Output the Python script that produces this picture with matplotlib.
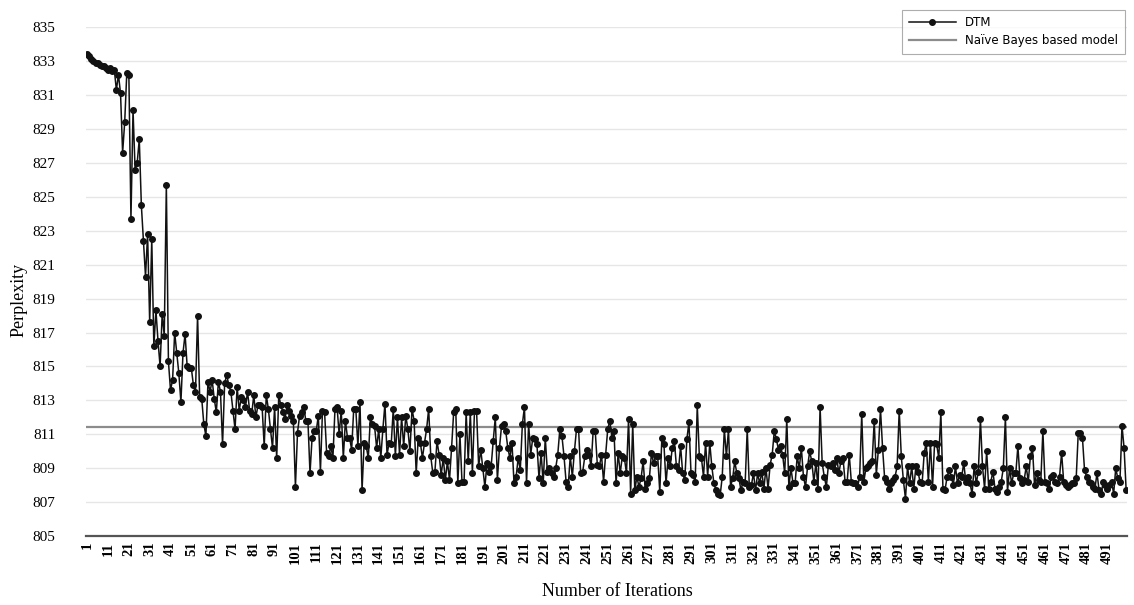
import matplotlib
matplotlib.use("Agg")
import matplotlib.pyplot as plt
import numpy as np

# perplexity per iteration (1..500)
dtm_1_50 = [833.4, 833.3, 833.1, 833.0, 832.9, 832.9, 832.8, 832.7, 832.7, 832.6,
            832.5, 832.6, 832.4, 832.5, 831.3, 832.2, 831.1, 827.6, 829.4, 832.3,
            832.2, 823.7, 830.1, 826.6, 827.0, 828.4, 824.5, 822.4, 820.3, 822.8,
            817.6, 822.5, 816.2, 818.3, 816.5, 815.0, 818.1, 816.8, 825.7, 815.3,
            813.6, 814.2, 817.0, 815.8, 814.6, 812.9, 815.8, 816.9, 815.0, 814.9]
dtm_51_101 = [814.9, 813.9, 813.5, 818.0, 813.2, 813.1, 811.6, 810.9, 814.1, 813.5,
              814.2, 813.1, 812.3, 814.1, 813.5, 810.4, 814.0, 814.5, 813.9, 813.5,
              812.4, 811.3, 813.8, 812.4, 813.2, 813.0, 812.6, 813.5, 812.4, 812.2,
              813.3, 812.0, 812.7, 812.7, 812.6, 810.3, 813.3, 812.5, 811.3, 810.2,
              812.6, 809.6, 813.3, 812.7, 812.3, 811.9, 812.7, 812.4, 812.1, 811.8,
              807.9]
dtm_102_151 = [811.1, 812.1, 812.3, 812.6, 811.8, 811.8, 808.7, 810.8, 811.2, 811.2,
               812.1, 808.8, 812.4, 812.3, 809.9, 809.7, 810.3, 809.6, 812.5, 812.6,
               811.0, 812.4, 809.6, 811.8, 810.8, 810.8, 810.1, 812.5, 812.5, 810.3,
               812.9, 807.7, 810.5, 810.3, 809.6, 812.0, 811.6, 811.5, 810.2, 811.3,
               809.6, 811.3, 812.8, 809.8, 810.5, 810.4, 812.5, 809.7, 812.0, 809.8]
dtm_152_202 = [812.0, 810.3, 812.1, 811.3, 810.0, 812.5, 811.8, 808.7, 810.8, 810.5,
               809.6, 810.5, 811.3, 812.5, 809.7, 808.7, 808.8, 810.6, 809.8, 808.6,
               809.6, 808.3, 809.4, 808.3, 810.2, 812.3, 812.5, 808.1, 811.0, 808.2,
               808.2, 812.3, 809.4, 812.3, 808.7, 812.4, 812.4, 809.1, 810.1, 809.0,
               807.9, 809.3, 808.8, 809.1, 810.6, 812.0, 808.3, 810.2, 811.5, 811.6,
               811.2]
dtm_203_253 = [810.2, 809.6, 810.5, 808.1, 808.5, 809.6, 808.9, 811.6, 812.6, 808.1,
               811.6, 809.8, 810.8, 810.7, 810.4, 808.4, 809.9, 808.1, 810.8, 808.8,
               809.0, 808.7, 808.5, 809.0, 809.8, 811.3, 810.9, 809.7, 808.2, 807.9,
               809.7, 808.5, 810.0, 811.3, 811.3, 808.7, 808.8, 809.7, 810.1, 809.8,
               809.1, 811.2, 811.2, 809.2, 809.1, 809.8, 808.2, 809.8, 811.3, 811.8,
               810.8]
dtm_254_303 = [811.2, 808.1, 809.9, 808.7, 809.7, 809.6, 808.7, 811.9, 807.5, 811.6,
               807.7, 808.5, 807.9, 808.4, 809.4, 807.8, 808.1, 808.4, 809.9, 809.3,
               809.7, 809.7, 807.6, 810.8, 810.4, 808.1, 809.6, 809.1, 810.2, 810.6,
               809.1, 808.9, 810.3, 808.7, 808.3, 810.7, 811.7, 808.7, 808.6, 808.2,
               812.7, 809.7, 809.6, 808.5, 810.5, 808.5, 810.5, 809.1, 808.1, 807.7]
dtm_304_354 = [807.5, 807.4, 808.5, 811.3, 809.7, 811.3, 807.9, 808.4, 809.4, 808.7,
               808.4, 807.7, 808.2, 808.1, 811.3, 807.9, 808.0, 808.7, 807.7, 808.7,
               808.1, 808.8, 807.8, 809.0, 807.8, 809.2, 809.8, 811.2, 810.7, 810.1,
               810.3, 809.8, 808.7, 811.9, 807.9, 809.0, 808.1, 808.1, 809.7, 809.0,
               810.2, 808.5, 807.9, 809.1, 810.0, 809.4, 808.2, 809.3, 807.8, 812.6,
               809.3]
dtm_355_405 = [808.5, 807.9, 809.2, 809.1, 809.3, 808.9, 809.6, 808.7, 809.4, 809.6,
               808.2, 808.2, 809.8, 808.2, 808.1, 808.1, 807.9, 808.5, 812.2, 808.2,
               809.0, 809.1, 809.3, 809.4, 811.8, 808.6, 810.1, 812.5, 810.2, 808.4,
               808.2, 807.8, 808.1, 808.3, 808.5, 809.1, 812.4, 809.7, 808.3, 807.2,
               809.1, 808.1, 809.1, 807.8, 809.1, 808.8, 808.2, 808.1, 809.9, 810.5,
               808.2]
dtm_406_456 = [810.5, 807.9, 810.5, 810.4, 809.6, 812.3, 807.8, 807.7, 808.5, 808.9,
               808.5, 808.0, 809.1, 808.1, 808.6, 808.5, 809.3, 808.2, 808.5, 808.1,
               807.5, 809.1, 808.1, 808.8, 811.9, 809.1, 807.8, 810.0, 807.8, 808.2,
               808.8, 807.8, 807.6, 807.9, 808.2, 809.0, 812.0, 807.6, 809.0, 808.1,
               808.7, 808.7, 810.3, 808.4, 808.1, 808.3, 809.1, 808.2, 809.7, 810.2,
               808.0]
dtm_457_500 = [808.7, 808.3, 808.2, 811.2, 808.2, 808.1, 807.8, 808.5, 808.6, 808.2,
               808.1, 808.5, 809.9, 808.2, 808.0, 807.9, 808.0, 808.1, 808.1, 808.4,
               811.1, 811.1, 810.8, 808.9, 808.5, 808.2, 808.1, 807.9, 807.8, 808.7,
               807.7, 807.5, 808.2, 808.0, 807.8, 808.0, 808.2, 807.5, 809.0, 808.4,
               808.2, 811.5, 810.2, 807.7]

naive_bayes = 811.4

dtm = (dtm_1_50 + dtm_51_101 + dtm_102_151 + dtm_152_202 + dtm_203_253 +
       dtm_254_303 + dtm_304_354 + dtm_355_405 + dtm_406_456 + dtm_457_500)
iters = np.arange(1, len(dtm) + 1)

x_ticks = list(range(1, 500, 10))
y_ticks = list(range(805, 836, 2))

serif = ['Liberation Serif', 'DejaVu Serif']

fig = plt.figure(figsize=(11.34, 6.05), dpi=100)
ax = fig.add_axes([0.076, 0.114, 0.918, 0.841])

ax.plot(iters, dtm, color='#111111', lw=1.1, marker='o', ms=4.0,
        label='DTM', zorder=3)
ax.axhline(naive_bayes, color='#8c8c8c', lw=1.6,
           label='Na\u00efve Bayes based model', zorder=2)

ax.set_xlim(0.5, len(dtm) + 0.5)
ax.set_ylim(805, 835)
ax.set_yticks(y_ticks)
ax.set_xticks(x_ticks)
ax.set_xticklabels([str(t) for t in x_ticks], rotation=90, fontweight='bold',
                   family=serif, fontsize=10.5)
ax.set_yticklabels([str(t) for t in y_ticks], family=serif, fontsize=11)
ax.tick_params(axis='both', length=0)
ax.tick_params(axis='x', pad=4)
ax.tick_params(axis='y', pad=22)

ax.grid(axis='y', color='#e6e6e6', lw=1.0)
ax.set_axisbelow(True)
for s in ['top', 'right', 'left']:
    ax.spines[s].set_visible(False)
ax.spines['bottom'].set_color('#555555')
ax.spines['bottom'].set_linewidth(1.6)

ax.set_xlabel('Number of Iterations', family=serif, fontsize=13)
ax.set_ylabel('Perplexity', family=serif, fontsize=13)
ax.xaxis.set_label_coords(0.51, -0.092)
ax.yaxis.set_label_coords(-0.056, 0.464)

leg = fig.legend(loc='upper right', bbox_to_anchor=(0.994, 0.988),
                 fancybox=False, edgecolor='#999999',
                 handlelength=4.0, borderpad=0.55, labelspacing=0.45,
                 borderaxespad=0.2,
                 prop={'family': 'DejaVu Sans', 'size': 8.5})
leg.get_frame().set_linewidth(0.8)

fig.savefig('out.png', dpi=100)
